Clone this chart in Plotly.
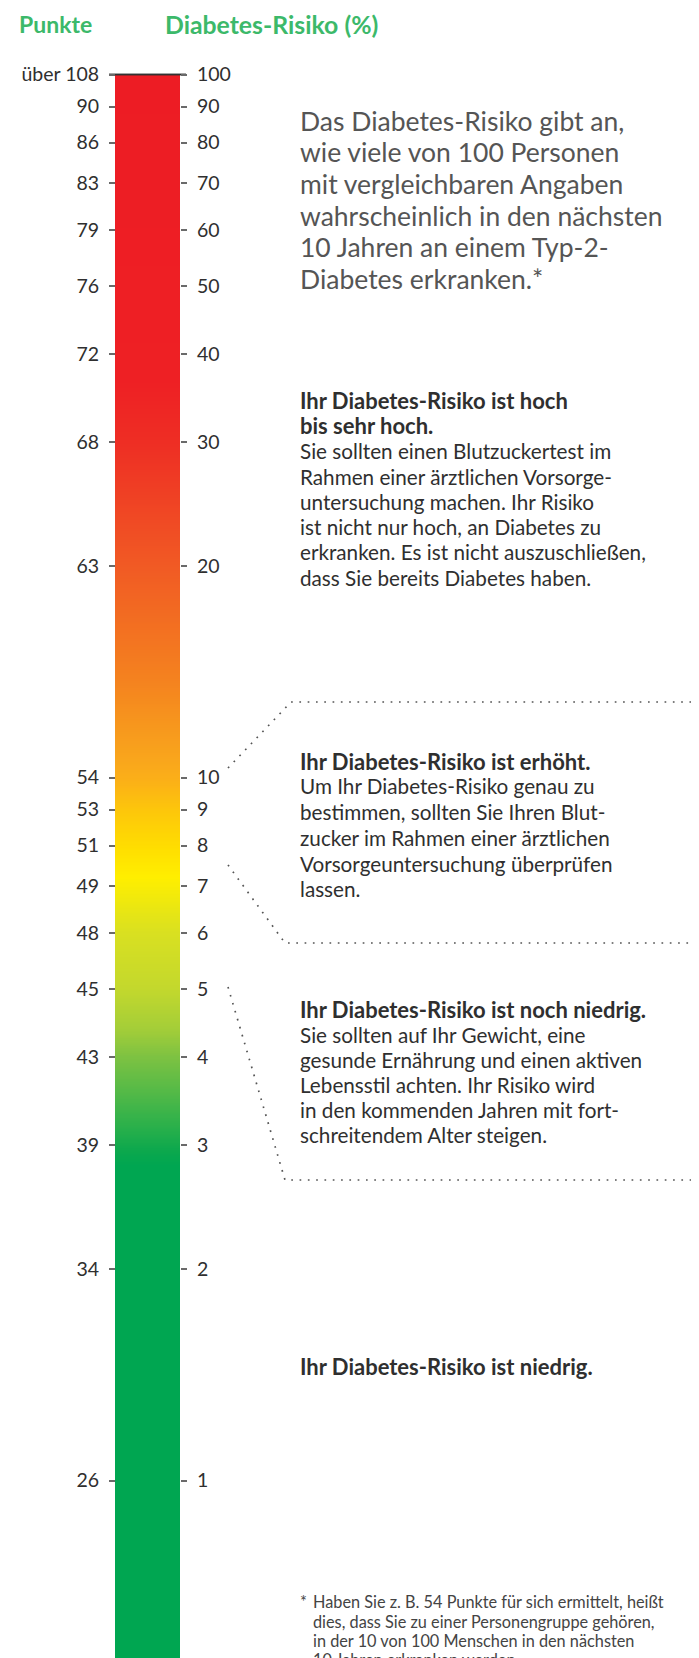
import numpy as np
import plotly.graph_objects as go

# ---------------- data ----------------
punkte_labels = ["über 108", "90", "86", "83", "79", "76", "72", "68", "63",
                 "54", "53", "51", "49", "48", "45", "43", "39", "34", "26"]
risiko_labels = ["100", "90", "80", "70", "60", "50", "40", "30", "20",
                 "10", "9", "8", "7", "6", "5", "4", "3", "2", "1"]
risiko_values = [100, 90, 80, 70, 60, 50, 40, 30, 20,
                 10, 9, 8, 7, 6, 5, 4, 3, 2, 1]

# ---------------- layout constants ----------------
W, H = 699, 1658
OFF = 8                      # page body margin
ONE_PCT_PX, DECADE_PX = 1480.5, 703.0   # log scale calibration (screen px)
FONT = "Lato"
TXT = "#2f2f2f"
GREEN_HEAD = "#3cb96a"
BAR_L, BAR_R = 115, 180

y_lo = (ONE_PCT_PX - H) / DECADE_PX
y_hi = (ONE_PCT_PX - OFF) / DECADE_PX

fig = go.Figure()

# ---------------- gradient bar (log risk axis) ----------------
Ledges = np.linspace(y_lo - 0.01, 2.0, 1400)
Lmid = (Ledges[:-1] + Ledges[1:]) / 2
grad = [(100, "#ed1c24"), (36.7, "#ee2024"), (30, "#ee2e24"), (20, "#f15a24"),
        (13.8, "#f4821f"), (10.6, "#f9a61c"), (10, "#fbae19"), (9, "#fdc60b"),
        (7.9, "#ffdf00"), (7.2, "#ffef00"), (6, "#d9e021"), (5, "#c3d82d"),
        (4.4, "#a5ce38"), (4, "#7dc242"), (3.5, "#4db848"), (3.15, "#26af4b"),
        (2.95, "#0da84d"), (2.8, "#00a651"), (10 ** Ledges[0], "#00a651")]
zmin, zmax = Ledges[0], 2.0
cs = sorted([[(np.log10(r) - zmin) / (zmax - zmin), c] for r, c in grad])
cs[0][0], cs[-1][0] = 0.0, 1.0
fig.add_trace(go.Heatmap(x=[BAR_L, BAR_R], y=10 ** Ledges, z=Lmid.reshape(-1, 1),
                         colorscale=cs, zmin=zmin, zmax=zmax, showscale=False,
                         hoverinfo="skip", xaxis="x", yaxis="y"))

# top line at the highest value (drawn on both scale axes)
for ya in ["y", "y2"]:
    fig.add_trace(go.Scatter(x=[109, 186], y=[risiko_values[0]] * 2, mode="lines",
                             line=dict(color="#333333", width=1.5),
                             hoverinfo="skip", showlegend=False, xaxis="x", yaxis=ya))

# ---------------- text (pixel overlay axis y3) ----------------
ann = []
ann.append(dict(x=17, y=24, text="<b>Punkte</b>", xanchor="left", yanchor="middle",
                xref="x", yref="y3", showarrow=False,
                font=dict(family=FONT, size=23, color=GREEN_HEAD)))
ann.append(dict(x=163, y=24, text="<b>Diabetes-Risiko (%)</b>", xanchor="left",
                yanchor="middle", xref="x", yref="y3", showarrow=False,
                font=dict(family=FONT, size=24.8, color=GREEN_HEAD)))


def lines(x, ys, texts, size, color, bold_n=0, bold_size=None):
    for i, (yy, t) in enumerate(zip(ys, texts)):
        if i < bold_n:
            tt, sz = f"<b>{t}</b>", (bold_size or size)
        else:
            tt, sz = t, size
        shift = 0
        if yy > H - 4:
            shift, yy = -(yy - (H - 4)), H - 4
        ann.append(dict(x=x, y=yy, yshift=shift, text=tt, xanchor="left",
                        yanchor="middle", xref="x", yref="y3", showarrow=False,
                        font=dict(family=FONT, size=sz, color=color)))


TX = 298
BODY, BOLD = 20.7, 22

desc = ["Das Diabetes-Risiko gibt an,", "wie viele von 100 Personen",
        "mit vergleichbaren Angaben", "wahrscheinlich in den nächsten",
        "10 Jahren an einem Typ-2-", "Diabetes erkranken.*"]
lines(TX, [120.5, 152.2, 183.8, 215.5, 247.2, 278.8], desc, 26.5, "#555555")

sec1 = ["Ihr Diabetes-Risiko ist hoch", "bis sehr hoch.",
        "Sie sollten einen Blutzuckertest im", "Rahmen einer ärztlichen Vorsorge-",
        "untersuchung machen. Ihr Risiko", "ist nicht nur hoch, an Diabetes zu",
        "erkranken. Es ist nicht auszuschließen,", "dass Sie bereits Diabetes haben."]
lines(TX, [400, 425.5, 451.2, 476.5, 501.8, 527.1, 552.4, 577.7], sec1, BODY, TXT, 2, BOLD)

sec2 = ["Ihr Diabetes-Risiko ist erhöht.", "Um Ihr Diabetes-Risiko genau zu",
        "bestimmen, sollten Sie Ihren Blut-", "zucker im Rahmen einer ärztlichen",
        "Vorsorgeuntersuchung überprüfen", "lassen."]
lines(TX, [761.2, 786.3, 812.2, 837.8, 863.7, 889.3], sec2, BODY, TXT, 1, BOLD)

sec3 = ["Ihr Diabetes-Risiko ist noch niedrig.", "Sie sollten auf Ihr Gewicht, eine",
        "gesunde Ernährung und einen aktiven", "Lebensstil achten. Ihr Risiko wird",
        "in den kommenden Jahren mit fort-", "schreitendem Alter steigen."]
lines(TX, [1009.3, 1035, 1060, 1085, 1110, 1135], sec3, BODY, TXT, 1, BOLD)

lines(TX, [1366], ["Ihr Diabetes-Risiko ist niedrig."], BODY, TXT, 1, BOLD)

foot = ["Haben Sie z. B. 54 Punkte für sich ermittelt, heißt",
        "dies, dass Sie zu einer Personengruppe gehören,",
        "in der 10 von 100 Menschen in den nächsten",
        "10 Jahren erkranken werden."]
lines(311, [1601.7, 1621, 1640.3, 1659.6], foot, 16.3, "#444444")
lines(298, [1601.7], ["*"], 16.3, "#444444")

# ---------------- dotted connectors ----------------
dot = dict(color="#555555", width=1.7, dash="1.7px,6.6px")
for xs, ys in [([228, 291, W], [768, 702, 702]),
               ([228, 285, W], [865, 943, 943]),
               ([228, 285, W], [987, 1180, 1180])]:
    fig.add_trace(go.Scatter(x=xs, y=ys, mode="lines", line=dot, xaxis="x", yaxis="y3",
                             hoverinfo="skip", showlegend=False))

pw = W - OFF
tick_common = dict(type="log", range=[y_lo, y_hi], tickvals=risiko_values,
                   ticks="outside", ticklen=6, tickwidth=1.5, tickcolor="#6a6a6a",
                   showgrid=False, zeroline=False, showline=False, fixedrange=True,
                   tickfont=dict(family=FONT, size=19.5, color=TXT), anchor="free")

fig.update_layout(
    width=pw, height=H - OFF, margin=dict(l=0, r=0, t=0, b=0),
    paper_bgcolor="white", plot_bgcolor="white", showlegend=False,
    xaxis=dict(range=[OFF, W], visible=False, fixedrange=True, domain=[0, 1]),
    yaxis=dict(**tick_common, ticktext=punkte_labels, side="left",
               position=(BAR_L - OFF) / pw, ticklabelstandoff=6),
    yaxis2=dict(**tick_common, ticktext=risiko_labels, side="right",
                position=(BAR_R - OFF) / pw, overlaying="y", ticklabelstandoff=6),
    yaxis3=dict(range=[H, OFF], visible=False, fixedrange=True, overlaying="y",
                anchor="x"),
    annotations=ann,
)
fig.write_html("out.html")
